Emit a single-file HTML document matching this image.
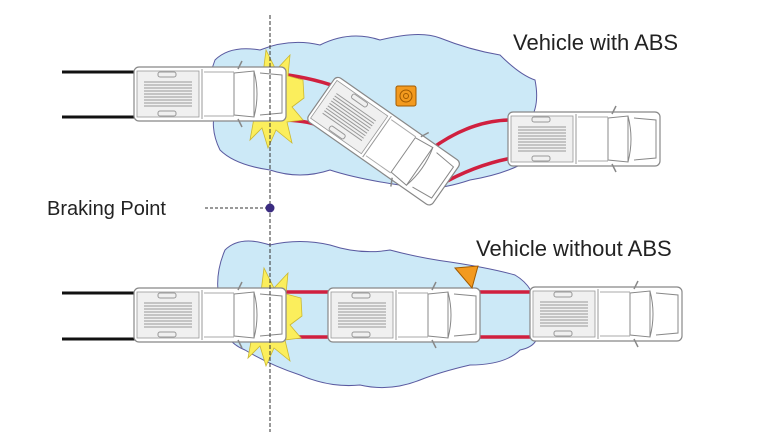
<!DOCTYPE html>
<html><head><meta charset="utf-8"><style>
body{margin:0;background:#fff;}
svg{display:block;}
text{font-family:"Liberation Sans",sans-serif;fill:#222;}
</style></head><body>
<svg width="770" height="440" viewBox="0 0 770 440" xmlns="http://www.w3.org/2000/svg">
<defs>
<g id="truck">
  <rect x="0" y="0" width="152" height="54" rx="5" fill="#fff" stroke="#888" stroke-width="1.2"/>
  <rect x="3" y="4" width="62" height="46" fill="#f0f0f0" stroke="#999" stroke-width="0.8"/>
  <g stroke="#999" stroke-width="1">
    <line x1="10" y1="15" x2="58" y2="15"/><line x1="10" y1="18" x2="58" y2="18"/><line x1="10" y1="21" x2="58" y2="21"/>
    <line x1="10" y1="24" x2="58" y2="24"/><line x1="10" y1="27" x2="58" y2="27"/><line x1="10" y1="30" x2="58" y2="30"/>
    <line x1="10" y1="33" x2="58" y2="33"/><line x1="10" y1="36" x2="58" y2="36"/><line x1="10" y1="39" x2="58" y2="39"/>
  </g>
  <rect x="24" y="5" width="18" height="5" rx="2" fill="none" stroke="#999"/>
  <rect x="24" y="44" width="18" height="5" rx="2" fill="none" stroke="#999"/>
  <line x1="68" y1="2" x2="68" y2="52" stroke="#999"/>
  <line x1="70" y1="5" x2="100" y2="5" stroke="#aaa"/>
  <line x1="70" y1="49" x2="100" y2="49" stroke="#aaa"/>
  <path d="M100 6 L120 4 L120 50 L100 48 Z" fill="#fff" stroke="#888"/>
  <path d="M120 4 Q126 27 120 50" fill="none" stroke="#888"/>
  <path d="M126 6 L148 8 L148 46 L126 48" fill="none" stroke="#888"/>
  <path d="M104 2 L108 -6 M104 52 L108 60" stroke="#888" stroke-width="1.5"/>
</g>
</defs>
<!-- water -->
<path d="M215 60 Q230 45 260 50 Q290 38 320 45 Q350 30 380 40 Q420 30 440 38 Q470 50 500 55 Q520 75 535 80 Q540 105 530 120 Q545 150 520 165 Q500 175 470 180 Q440 190 420 188 Q360 180 330 170 Q300 180 270 170 Q235 165 220 150 Q210 130 215 110 Q205 85 215 60 Z" fill="#cce9f7" stroke="#5a5aa0" stroke-width="1"/>
<path d="M225 250 Q240 235 270 245 Q300 238 330 245 Q360 255 390 250 Q420 258 450 262 Q490 268 515 275 Q540 290 535 320 Q545 345 520 350 Q505 365 470 365 Q440 372 420 380 Q390 392 360 385 Q330 388 300 375 Q270 365 245 350 Q220 340 222 310 Q212 280 225 250 Z" fill="#cce9f7" stroke="#5a5aa0" stroke-width="1"/>
<!-- black tracks -->
<g stroke="#111" stroke-width="3">
<line x1="62" y1="72" x2="138" y2="72"/><line x1="62" y1="117" x2="138" y2="117"/>
<line x1="62" y1="293" x2="138" y2="293"/><line x1="62" y1="339" x2="138" y2="339"/>
</g>
<!-- red tracks -->
<g stroke="#d0203f" stroke-width="3.5" fill="none">
<path d="M280 74 Q315 78 345 90"/>
<path d="M280 120 Q305 120 320 126"/>
<path d="M430 150 Q470 120 512 120"/>
<path d="M440 185 Q475 165 512 158"/>
<line x1="280" y1="292" x2="535" y2="292"/>
<line x1="280" y1="337" x2="535" y2="337"/>
</g>
<!-- starbursts -->
<g id="burst">
<polygon points="304,98 292,107 303,120 287,122 292,143 276,130 268,148 262,128 250,140 254,118 240,105 254,96 246,76 262,82 266,50 276,70 290,55 288,76 303,80" fill="#fbee5c" stroke="#cbb830" stroke-width="0.8"/>
</g>
<use href="#burst" transform="translate(-2,218)"/>
<!-- trucks -->
<use href="#truck" transform="translate(134,67)"/>
<use href="#truck" transform="translate(508,112)"/>
<g transform="translate(383,142) rotate(35) translate(-76,-28)"><use href="#truck"/></g>
<use href="#truck" transform="translate(134,288)"/>
<use href="#truck" transform="translate(328,288)"/>
<use href="#truck" transform="translate(530,287)"/>
<!-- cones -->
<rect x="396" y="86" width="20" height="20" rx="2" fill="#f39a1f" stroke="#a05a00"/>
<circle cx="406" cy="96" r="6" fill="none" stroke="#a05a00"/><circle cx="406" cy="96" r="2.5" fill="none" stroke="#a05a00"/>
<polygon points="455,268 478,266 472,288" fill="#f39a1f" stroke="#a05a00"/>
<!-- braking line -->
<line x1="270" y1="15" x2="270" y2="432" stroke="#333" stroke-width="1" stroke-dasharray="4,2"/>
<line x1="205" y1="208" x2="270" y2="208" stroke="#333" stroke-width="1" stroke-dasharray="3,2"/>
<circle cx="270" cy="208" r="4.5" fill="#3a2b80"/>
<text x="47" y="215" font-size="20">Braking Point</text>
<text x="513" y="50" font-size="22">Vehicle with ABS</text>
<text x="476" y="256" font-size="22">Vehicle without ABS</text>
</svg>
</body></html>
